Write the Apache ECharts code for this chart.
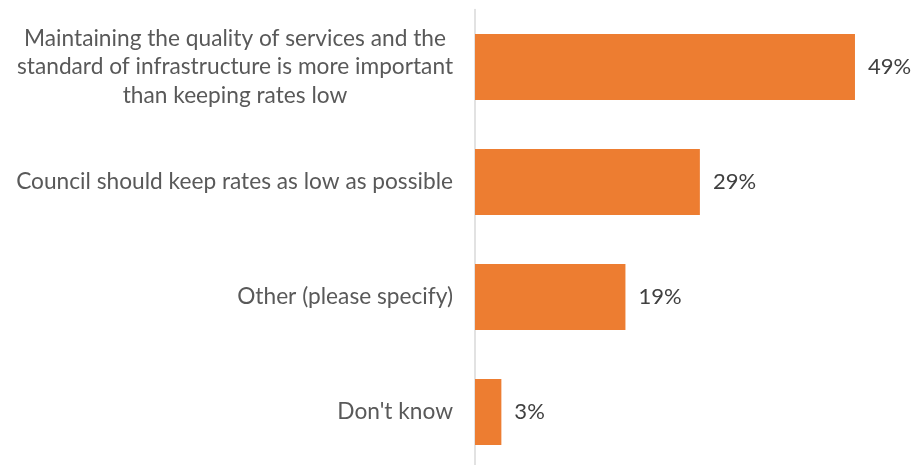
<!DOCTYPE html>
<html>
<head>
<meta charset="utf-8">
<script src="https://cdn.jsdelivr.net/npm/echarts@6/dist/echarts.min.js"></script>
<style>html,body{margin:0;padding:0;background:#fff}#c{width:915px;height:465px}</style>
</head>
<body>
<div id="c"></div>
<script>
const categories = [
  "Maintaining the quality of services and the\nstandard of infrastructure is more important\nthan keeping rates low",
  "Council should keep rates as low as possible",
  "Other (please specify)",
  "Don't know"
];
const values = [49, 29, 19.4, 3.4];
const valueLabels = ["49%", "29%", "19%", "3%"];

const FONT = "Lato";
const chart = echarts.init(document.getElementById('c'));
chart.setOption({
  animation: false,
  backgroundColor: '#ffffff',
  grid: { left: 475, width: 426.5, top: 9.5, height: 460, containLabel: false, outerBoundsMode: 'none' },
  xAxis: {
    type: 'value', min: 0, max: 55,
    show: false
  },
  yAxis: {
    type: 'category',
    inverse: true,
    data: categories.map((c, i) => i === 0
      ? { value: c, textStyle: { align: 'center', padding: [0, 436, 0, 0] } }
      : c),
    axisLine: { show: true, lineStyle: { color: '#d9d9d9', width: 1.5 } },
    axisTick: { show: false },
    axisLabel: {
      margin: 22,
      color: '#595959',
      fontFamily: FONT,
      fontSize: 22.7,
      lineHeight: 28.5
    }
  },
  series: [{
    type: 'bar',
    data: values,
    barWidth: 66,
    itemStyle: { color: '#ED7D31' },
    label: {
      show: true,
      position: 'right',
      distance: 13,
      color: '#404040',
      fontFamily: FONT,
      fontSize: 22,
      formatter: p => valueLabels[p.dataIndex]
    }
  }]
});
</script>
</body>
</html>
